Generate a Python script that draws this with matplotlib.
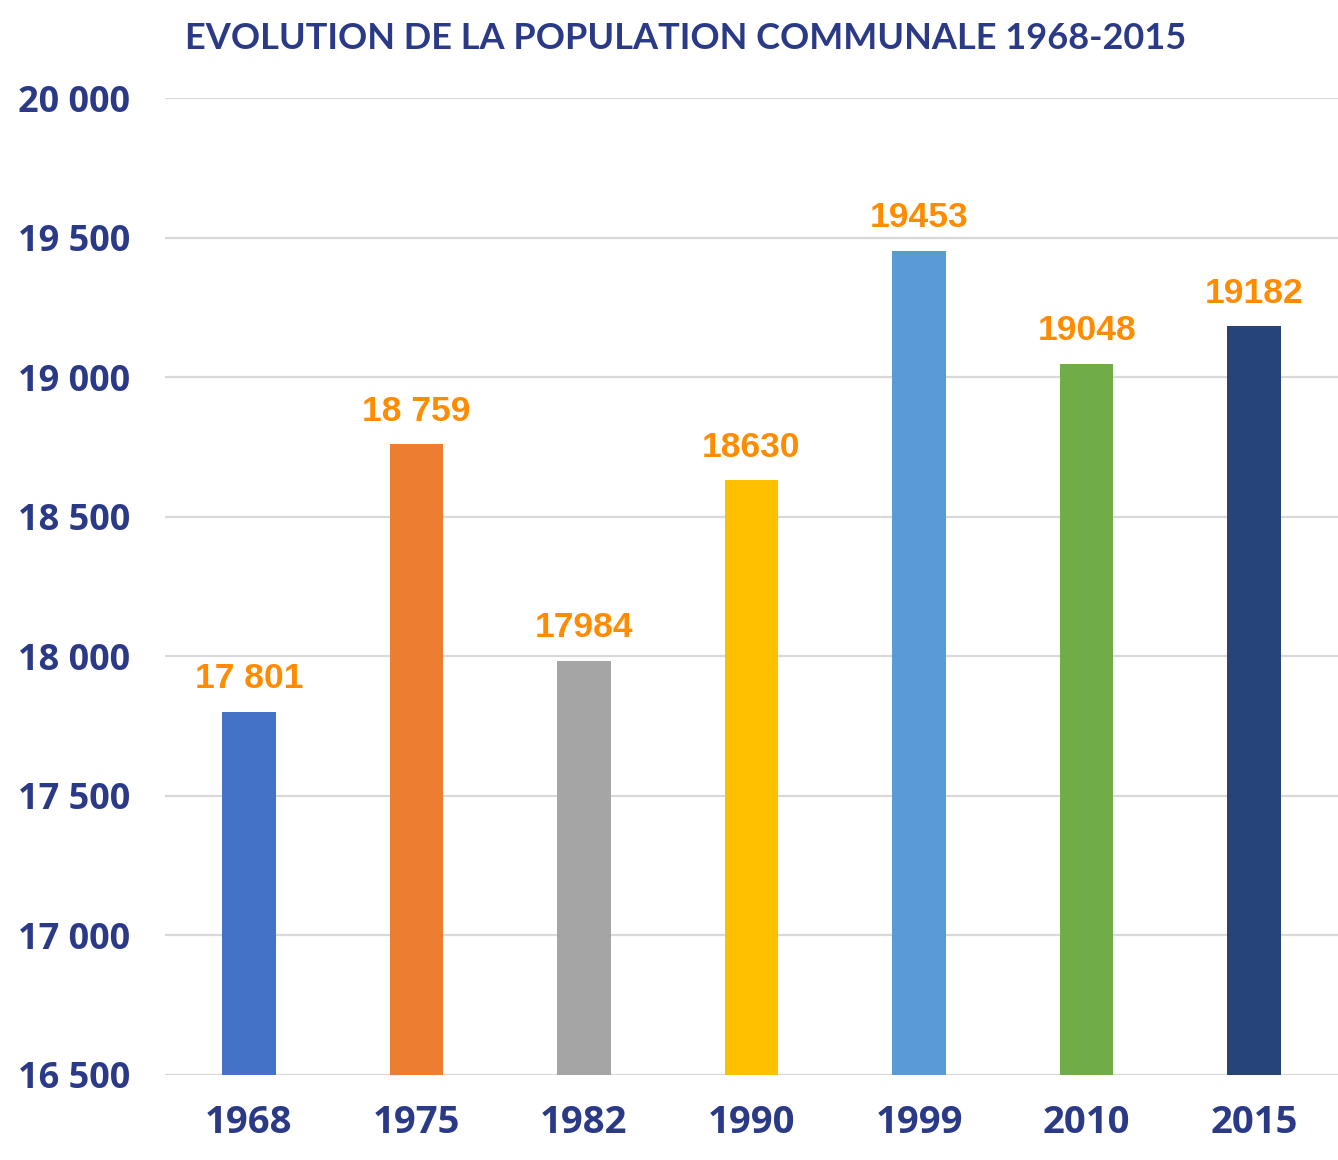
import matplotlib
matplotlib.use("Agg")
import matplotlib.pyplot as plt

years = ["1968", "1975", "1982", "1990", "1999", "2010", "2015"]
population = [17801, 18759, 17984, 18630, 19453, 19048, 19182]
value_labels = ["17 801", "18 759", "17984", "18630", "19453", "19048", "19182"]
bar_colors = ["#4472C4", "#ED7D31", "#A5A5A5", "#FFC000", "#5B9BD5", "#70AD47", "#264478"]
y_ticks = [16500, 17000, 17500, 18000, 18500, 19000, 19500, 20000]
y_tick_labels = ["16 500", "17 000", "17 500", "18 000", "18 500", "19 000", "19 500", "20 000"]
title = "EVOLUTION DE LA POPULATION COMMUNALE 1968-2015"

navy = "#2B3A86"
orange = "#FF8C00"

fig = plt.figure(figsize=(13.38, 11.6), dpi=100)
ax = fig.add_axes([0.1233, 0.0733, 0.8767, 0.8422])

x = list(range(len(years)))
ax.bar(x, [p - 16500 for p in population], bottom=16500, width=0.32,
       color=bar_colors, zorder=3)

for xi, p, lab in zip(x, population, value_labels):
    ax.annotate(lab, (xi, p), xytext=(0, 17), textcoords="offset points",
                ha="center", va="baseline", color=orange, fontsize=25.5,
                fontweight="bold", family="Liberation Sans")

ax.set_xlim(-0.5, len(years) - 0.5)
ax.set_ylim(16500, 20000)
ax.set_yticks(y_ticks)
ax.set_yticklabels(y_tick_labels)
ax.set_xticks(x)
ax.set_xticklabels(years)

for lbl in ax.get_yticklabels():
    lbl.set_fontfamily("Open Sans")
    lbl.set_fontweight("bold")
    lbl.set_fontsize(26)
    lbl.set_color(navy)
for lbl in ax.get_xticklabels():
    lbl.set_fontfamily("Open Sans")
    lbl.set_fontweight("bold")
    lbl.set_fontsize(27.5)
    lbl.set_color(navy)

ax.tick_params(axis="y", length=0, pad=25)
ax.tick_params(axis="x", length=0, pad=21)
ax.grid(axis="y", color="#D9D9D9", linewidth=1.6, zorder=0)
ax.set_axisbelow(True)
for s in ax.spines.values():
    s.set_visible(False)

fig.text(0.5125, 0.967, title, ha="center", va="center", color=navy,
         fontsize=26, fontweight="bold", family="Lato")

fig.savefig("out.png", dpi=100)
